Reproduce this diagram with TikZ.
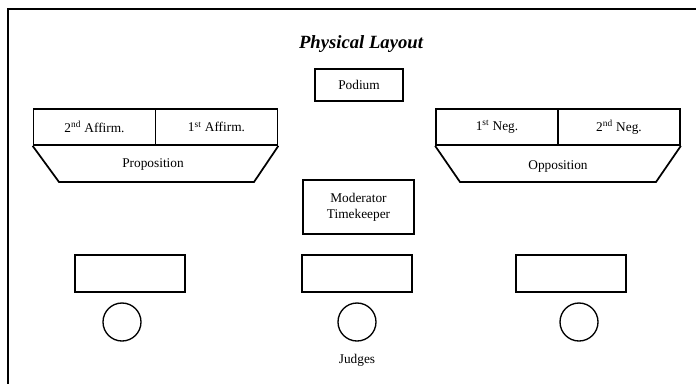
\documentclass[tikz,border=0pt]{standalone}
\usepackage{fontspec}
\setmainfont{Liberation Serif}
\begin{document}
\begin{tikzpicture}[x=0.75pt,y=-0.75pt,
  box/.style={draw,line width=1.3pt,rectangle,inner sep=0pt,font=\fontsize{10}{12}\selectfont},
  lbl/.style={inner sep=0pt,font=\fontsize{10}{12}\selectfont},
  seat/.style={draw,line width=1pt,circle,inner sep=0pt,minimum size=28.5pt}]
\useasboundingbox (0,0) rectangle (696,383);
\clip (0,0) rectangle (696,383);
\draw[line width=1.1pt] (8,9) rectangle (705,392);
\node[inner sep=0pt,font=\fontsize{14}{16}\selectfont\bfseries\itshape] (title) at (361,44) {Physical Layout};
% podium
\node[box,minimum width=66pt,minimum height=24pt] (podium) at (359,85) {Podium};
% proposition
\node[box,minimum width=91.5pt,minimum height=27pt] (aff2) at (94.5,127) {2\textsuperscript{nd} Affirm.};
\node[box,minimum width=91.5pt,minimum height=27pt] (aff1) at (216.5,127) {1\textsuperscript{st} Affirm.};
\draw[line width=1.3pt] (aff2.south west) -- (59,182) -- (254,182) -- (aff1.south east);
\node[lbl] (prop) at (153,164) {Proposition};
% opposition
\node[box,minimum width=91.5pt,minimum height=27pt] (neg1) at (497,127) {1\textsuperscript{st} Neg.};
\node[box,minimum width=91.5pt,minimum height=27pt] (neg2) at (619,127) {2\textsuperscript{nd} Neg.};
\draw[line width=1.3pt] (neg1.south west) -- (460,182) -- (656,182) -- (neg2.south east);
\node[lbl] (opp) at (558,166) {Opposition};
% moderator
\node[box,minimum width=83pt,minimum height=40.5pt,align=center] (mod) at (358.5,207) {Moderator\\Timekeeper};
% judges
\node[box,minimum width=82.5pt,minimum height=27.75pt] (t1) at (130,273.5) {};
\node[box,minimum width=82.5pt,minimum height=27.75pt] (t2) at (357,273.5) {};
\node[box,minimum width=82.5pt,minimum height=27.75pt] (t3) at (571,273.5) {};
\node[seat] (c1) at (122,322) {};
\node[seat] (c2) at (357,322) {};
\node[seat] (c3) at (579,322) {};
\node[lbl] (judges) at (357,360) {Judges};
\end{tikzpicture}
\end{document}
